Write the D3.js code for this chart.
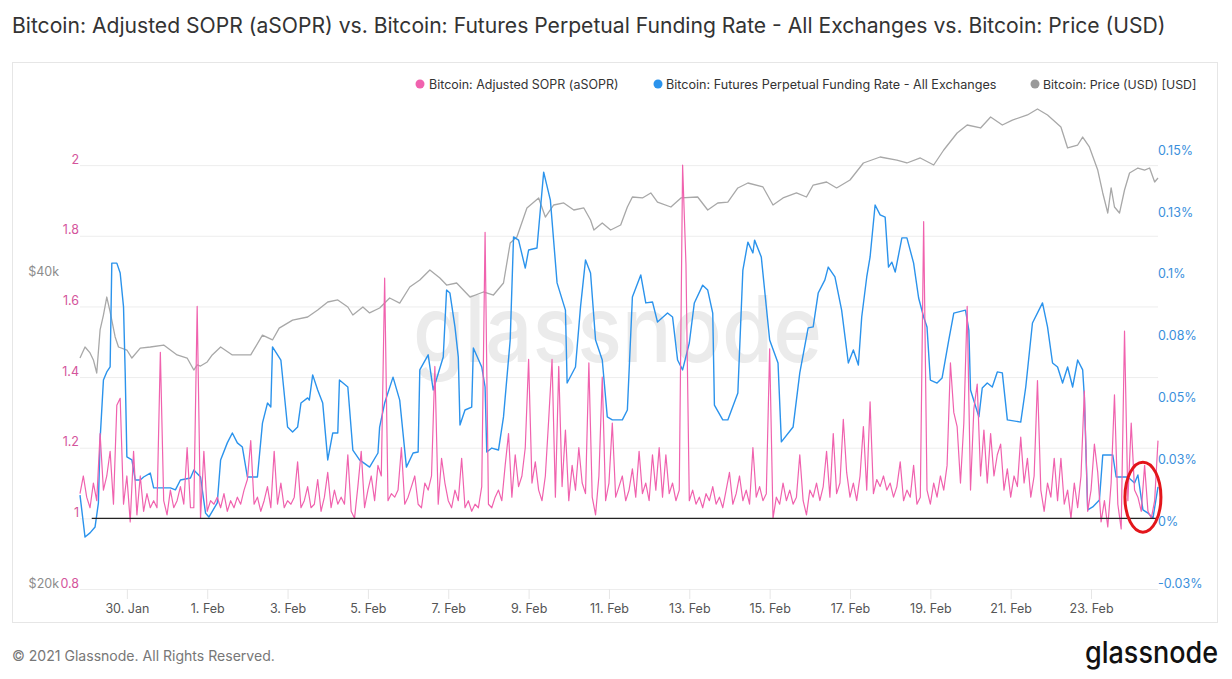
<!DOCTYPE html>
<html><head><meta charset="utf-8">
<script src="https://cdn.jsdelivr.net/npm/d3@7"></script>
<style>html,body{margin:0;padding:0;background:#fff;} svg{display:block;font-family:Inter,"Open Sans",sans-serif;}</style>
</head><body><svg id="c" width="1232" height="679"></svg>
<script>
// ---------------- DATA ----------------
const startTime = Date.UTC(2021, 0, 28, 20); // first sample, hours below are offsets from here
const asoprStepHours = 2;
const asoprValues = [
1.07,1.12,1.06,1.03,1.10,1.05,1.24,1.08,1.12,1.19,
1.04,1.32,1.34,1.04,1.12,0.99,1.19,1.01,1.12,1.02,
1.07,1.03,1.05,1.03,1.47,1.05,1.01,1.08,1.03,1.05,
1.09,1.04,1.20,1.03,1.03,1.60,1.00,1.19,1.02,1.05,
1.04,1.06,1.03,1.07,1.02,1.05,1.03,1.06,1.04,1.08,
1.11,1.22,1.04,1.06,1.02,1.05,1.09,1.03,1.19,1.04,
1.10,1.03,1.05,1.04,1.06,1.16,1.03,1.05,1.09,1.03,
1.04,1.11,1.02,1.06,1.13,1.03,1.08,1.04,1.06,1.04,
1.18,1.02,1.00,1.09,1.19,1.03,1.08,1.12,1.05,1.15,
1.12,1.68,1.05,1.07,1.06,1.08,1.20,1.04,1.06,1.09,
1.12,1.04,1.03,1.10,1.08,1.12,1.43,1.04,1.17,1.10,
1.05,1.03,1.08,1.05,1.17,1.03,1.05,1.02,1.04,1.03,
1.09,1.81,1.04,1.03,1.06,1.08,1.05,1.15,1.24,1.06,
1.18,1.09,1.12,1.20,1.45,1.10,1.16,1.08,1.05,1.12,
1.28,1.45,1.06,1.43,1.09,1.25,1.05,1.15,1.08,1.20,
1.10,1.07,1.44,1.06,1.01,1.12,1.40,1.05,1.10,1.27,
1.06,1.09,1.12,1.05,1.08,1.14,1.06,1.19,1.07,1.10,
1.05,1.18,1.08,1.20,1.06,1.18,1.07,1.10,1.05,1.08,
2.00,1.72,1.05,1.08,1.04,1.06,1.03,1.07,1.05,1.09,
1.04,1.06,1.03,1.08,1.13,1.04,1.07,1.12,1.05,1.08,
1.04,1.20,1.06,1.09,1.05,1.07,1.48,1.00,1.06,1.04,
1.10,1.05,1.08,1.04,1.06,1.18,1.05,1.01,1.08,1.06,
1.10,1.05,1.09,1.19,1.06,1.24,1.07,1.10,1.28,1.13,
1.06,1.10,1.05,1.12,1.26,1.08,1.33,1.07,1.11,1.09,
1.12,1.08,1.10,1.06,1.09,1.16,1.05,1.08,1.06,1.15,
1.04,1.06,1.84,1.08,1.04,1.10,1.06,1.12,1.08,1.15,
1.44,1.30,1.26,1.10,1.27,1.60,1.08,1.31,1.38,1.12,
1.25,1.10,1.24,1.12,1.18,1.21,1.08,1.14,1.06,1.12,
1.09,1.23,1.10,1.17,1.06,1.12,1.39,1.08,1.02,1.10,
1.06,1.17,1.05,1.17,1.04,1.08,1.00,1.10,1.03,1.12,
1.36,1.02,1.08,1.21,1.13,0.99,1.05,0.976,1.10,1.35,
1.04,0.97,1.53,1.05,1.27,1.08,1.06,1.02,1.15,1.02,
1.00,1.05,1.22];

const fundingHours = [
0,3,6,9,11,12,14,16,18,19,22,24,26,27,28,31,33,36,38,42,
44,54,57,60,66,68,72,75,77,82,84,88,91,94,97,100,106,109,112,114,
115,120,124,127,130,132,136,137,139,142,145,148,151,154,155,160,163,167,173,178,
179,182,187,191,195,199,202,203,208,211,217,219,221,224,226,227,230,234,235,240,
242,243,246,250,253,257,259,262,266,268,273,277,281,285,290,291,296,299,302,305,
308,312,315,318,324,327,330,335,338,342,345,351,354,357,360,364,367,372,375,378,
379,384,387,393,396,399,402,403,407,412,417,419,426,430,435,438,441,445,447,451,
455,459,462,465,467,470,472,475,478,481,483,485,487,491,494,498,501,504,506,508,
512,515,519,522,529,531,532,537,539,542,545,548,551,554,562,565,569,575,578,581,
584,587,590,593,596,599,600,602,605,609,611,617,619,626,630,632,635,638,641,644];
const fundingRate = [ // percent
0.0130,-0.0040,-0.0023,0.0001,0.0098,0.0353,0.0595,0.0628,0.0648,0.1068,
0.1068,0.1028,0.0891,0.0624,0.0284,0.0272,0.0191,0.0191,0.0203,0.0219,
0.0159,0.0159,0.0151,0.0191,0.0199,0.0231,0.0203,0.0057,0.0041,0.0098,
0.0272,0.0341,0.0381,0.0341,0.0324,0.0203,0.0203,0.0421,0.0502,0.0486,
0.0729,0.0676,0.0405,0.0385,0.0405,0.0502,0.0523,0.0514,0.0616,0.0555,
0.0502,0.0272,0.0381,0.0381,0.0595,0.0567,0.0312,0.0272,0.0243,0.0300,
0.0405,0.0502,0.0607,0.0514,0.0243,0.0300,0.0304,0.0636,0.0697,0.0555,
0.0688,0.0959,0.0947,0.0810,0.0688,0.0413,0.0474,0.0486,0.0725,0.0648,
0.0567,0.0304,0.0320,0.0312,0.0446,0.0757,0.1174,0.1161,0.1048,0.1121,
0.1129,0.1436,0.1323,0.0988,0.0878,0.0583,0.0648,0.0890,0.1081,0.1028,
0.0757,0.0676,0.0446,0.0434,0.0434,0.0474,0.0931,0.1020,0.0907,0.0911,
0.0830,0.0866,0.0850,0.0676,0.0636,0.0745,0.0907,0.0979,0.0959,0.0866,
0.0494,0.0434,0.0434,0.0543,0.1040,0.1153,0.1109,0.1161,0.1093,0.0757,
0.0664,0.0345,0.0405,0.0624,0.0806,0.0810,0.0947,0.1000,0.1052,0.1012,
0.0878,0.0664,0.0717,0.0656,0.0850,0.1012,0.1093,0.1303,0.1263,0.1254,
0.1052,0.1072,0.1032,0.1170,0.1170,0.1068,0.0927,0.0850,0.0810,0.0595,
0.0583,0.0603,0.0757,0.0866,0.0878,0.0797,0.0555,0.0446,0.0563,0.0583,
0.0567,0.0628,0.0624,0.0434,0.0425,0.0567,0.0826,0.0907,0.0810,0.0664,
0.0648,0.0583,0.0648,0.0567,0.0676,0.0636,0.0527,0.0070,0.0082,0.0110,
0.0292,0.0292,0.0203,0.0203,0.0179,0.0211,0.0070,0.0057,0.0037,0.0163];

const priceHours = [
0,3,6,8,10,12,14,16,18,21,23,28,31,36,42,50,58,64,68,70,
72,76,79,84,91,102,109,115,119,127,136,142,148,154,160,163,169,173,179,185,
191,197,203,209,215,219,225,233,241,247,253,257,261,267,274,278,283,289,295,301,
305,307,312,317,323,327,330,336,341,345,353,359,369,375,381,387,393,399,408,414,
420,428,434,438,446,452,460,468,478,488,494,502,510,516,524,530,538,544,551,557,
566,572,578,586,590,596,599,603,608,611,614,616,618,621,624,627,632,636,639,642,644];
const priceUSD = [
33410,34240,33790,33270,32320,35560,36760,38260,37010,35010,34240,34010,33410,34160,34240,34390,33640,33410,32530,32900,
32820,33120,33640,34240,33640,33640,35160,34780,35710,36350,36600,37170,37840,38010,37420,36760,37420,36930,37340,38180,
37750,39120,39730,40630,39910,39290,39470,38260,38690,38430,39470,43140,43720,46630,47680,45700,46940,47150,46420,46630,
45400,44400,45100,44400,44900,46730,47780,47680,48210,47250,46730,47680,47780,46420,47150,47250,48750,49290,48860,46940,
47680,48210,47780,49070,49400,48750,49620,51530,52220,51870,51530,52110,51300,53040,55080,56070,55700,57070,56070,56690,
57330,58100,57330,55820,53280,53630,54590,53400,50730,48210,46110,48750,46730,46110,48530,50400,50960,50730,50960,49400,49840];

const baselineHours = [7, 644];
const baselineValue = 1;

// red highlight ellipse (annotation), centred on hour / aSOPR value
const highlightHour = 635;
const highlightValue = 1.06;

const xTickDates = ["2021-01-30","2021-02-01","2021-02-03","2021-02-05","2021-02-07","2021-02-09","2021-02-11",
                    "2021-02-13","2021-02-15","2021-02-17","2021-02-19","2021-02-21","2021-02-23"];
const asoprTicks = [0.8, 1, 1.2, 1.4, 1.6, 1.8, 2];
const asoprTickLabels = ["0.8","1","1.2","1.4","1.6","1.8","2"];
const fundingTicks = [-0.025, 0, 0.025, 0.05, 0.075, 0.1, 0.125, 0.15];
const fundingTickLabels = ["-0.03%","0%","0.03%","0.05%","0.08%","0.1%","0.13%","0.15%"];
const priceTicks = [20000, 40000];
const priceTickLabels = ["$20k","$40k"];

const titleText = "Bitcoin: Adjusted SOPR (aSOPR) vs. Bitcoin: Futures Perpetual Funding Rate - All Exchanges vs. Bitcoin: Price (USD)";
const legendNames = ["Bitcoin: Adjusted SOPR (aSOPR)","Bitcoin: Futures Perpetual Funding Rate - All Exchanges","Bitcoin: Price (USD) [USD]"];

// ---------------- LAYOUT / STYLE ----------------
const H = 3600 * 1000;
const C = {pink:"#f062ae", blue:"#2b93ec", gray:"#a8a8a8", black:"#222"};
const plot = {l:80, r:1158, t:94.5, b:589};
const svg = d3.select("#c");

const x = d3.scaleUtc().domain([startTime, startTime + 644*H]).range([plot.l, plot.r]);
const yA = d3.scaleLinear().domain([0.8, 2.2]).range([plot.b, plot.t]);
const yF = d3.scaleLinear().domain([-0.025, 0.175]).range([plot.b, plot.t]);
const yP = d3.scaleLog().domain([20000, 60000]).range([plot.b, plot.t]);

function fit(sel, w){ const cw = sel.node().getComputedTextLength(); sel.attr("font-size", parseFloat(sel.attr("font-size"))*w/cw); return sel; }

// frame
svg.append("rect").attr("x",12.5).attr("y",62.5).attr("width",1205).attr("height",560)
  .attr("fill","none").attr("stroke","#e6e6e6");

// title
fit(svg.append("text").attr("x",12).attr("y",25).attr("dominant-baseline","central")
  .attr("font-size",20).attr("fill","#333").text(titleText), 1154);

// legend
const legX = [[420,429,189.6],[658,666,330.6],[1035,1043,153.7]];
const legC = [C.pink, C.blue, "#999"];
legendNames.forEach((n,i)=>{
  svg.append("circle").attr("cx",legX[i][0]).attr("cy",84).attr("r",4.5).attr("fill",legC[i]);
  fit(svg.append("text").attr("x",legX[i][1]).attr("y",84).attr("dominant-baseline","central")
    .attr("font-size",13).attr("fill","#333").text(n), legX[i][2]);
});

// grid
const grid = svg.append("g").attr("transform",`translate(${plot.l},0)`)
  .call(d3.axisLeft(yA).tickValues(asoprTicks).tickSize(-(plot.r-plot.l)).tickFormat(""));
grid.select(".domain").remove();
grid.selectAll("line").attr("stroke","#ededed");

// watermark
svg.append("text").attr("x",413).attr("y",362).attr("font-size",92).attr("font-weight",500)
  .attr("fill","#ebebeb").attr("textLength",409).attr("lengthAdjust","spacingAndGlyphs").text("glassnode");

// axes
function styleAxis(g, color){
  g.select(".domain").remove();
  g.selectAll("text").attr("fill",color).attr("font-size",12.5).attr("font-family","Inter, 'Open Sans', sans-serif").attr("y",-6);
}
const gA = svg.append("g").attr("transform",`translate(${plot.l},0)`)
  .call(d3.axisLeft(yA).tickValues(asoprTicks).tickSize(0).tickPadding(1).tickFormat((d,i)=>asoprTickLabels[i]));
styleAxis(gA, "#d4559c");
const gP = svg.append("g").attr("transform",`translate(60,0)`)
  .call(d3.axisLeft(yP).tickValues(priceTicks).tickSize(0).tickPadding(1).tickFormat((d,i)=>priceTickLabels[i]));
styleAxis(gP, "#8c8c8c");
const gF = svg.append("g").attr("transform",`translate(${plot.r},0)`)
  .call(d3.axisRight(yF).tickValues(fundingTicks).tickSize(0).tickPadding(0).tickFormat((d,i)=>fundingTickLabels[i]));
styleAxis(gF, "#3a8fdc");

const xTicks = xTickDates.map(s=>new Date(s+"T00:00:00Z"));
const gX = svg.append("g").attr("transform",`translate(0,${plot.b})`)
  .call(d3.axisBottom(x).tickValues(xTicks).tickSize(10).tickPadding(5).tickFormat(d3.utcFormat("%-d. %b")));
gX.select(".domain").remove();
gX.selectAll("line").attr("stroke","#e6e6e6");
gX.selectAll("text").attr("fill","#555").attr("font-size",12.5).attr("font-family","Inter, 'Open Sans', sans-serif");

// series
const lineP = d3.line().x((d,i)=>x(startTime+priceHours[i]*H)).y(d=>yP(d));
svg.append("path").datum(priceUSD).attr("d",lineP).attr("fill","none").attr("stroke",C.gray).attr("stroke-width",1.3).attr("stroke-linejoin","round");
const lineF = d3.line().x((d,i)=>x(startTime+fundingHours[i]*H)).y(d=>yF(d));
svg.append("path").datum(fundingRate).attr("d",lineF).attr("fill","none").attr("stroke",C.blue).attr("stroke-width",1.4).attr("stroke-linejoin","round");
const lineA = d3.line().x((d,i)=>x(startTime+i*asoprStepHours*H)).y(d=>yA(d));
svg.append("path").datum(asoprValues).attr("d",lineA).attr("fill","none").attr("stroke",C.pink).attr("stroke-width",1.2).attr("stroke-linejoin","round");
const lineB = d3.line().x(d=>x(startTime+d*H)).y(()=>yA(baselineValue));
svg.append("path").datum(baselineHours).attr("d",lineB).attr("stroke",C.black).attr("stroke-width",1.4);

// red highlight
svg.append("ellipse").attr("cx",x(startTime+highlightHour*H)).attr("cy",yA(highlightValue))
  .attr("rx",18).attr("ry",35).attr("fill","none").attr("stroke","#e3161b").attr("stroke-width",3);

// footer
fit(svg.append("text").attr("x",12).attr("y",655).attr("dominant-baseline","central")
  .attr("font-size",14).attr("fill","#777").text("© 2021 Glassnode. All Rights Reserved."), 263);
svg.append("text").attr("x",1085).attr("y",663).attr("font-size",30).attr("font-weight",500)
  .attr("fill","#111").attr("textLength",133).attr("lengthAdjust","spacingAndGlyphs").text("glassnode");
</script></body></html>
